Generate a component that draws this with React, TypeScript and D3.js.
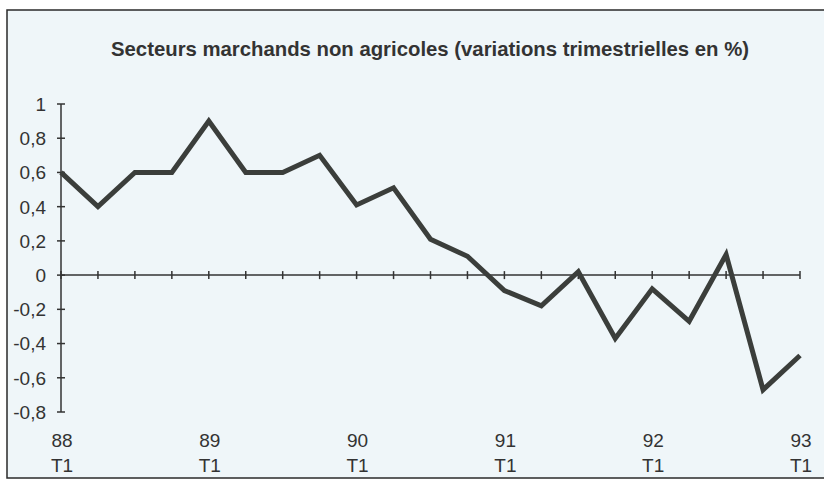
import React from 'react'
import * as d3 from 'd3'

// Quarters from 88 T1 to 93 T1
const quarters = [
  '88T1', '88T2', '88T3', '88T4',
  '89T1', '89T2', '89T3', '89T4',
  '90T1', '90T2', '90T3', '90T4',
  '91T1', '91T2', '91T3', '91T4',
  '92T1', '92T2', '92T3', '92T4',
  '93T1'
]
const values = [
  0.6, 0.4, 0.6, 0.6,
  0.9, 0.6, 0.6, 0.7,
  0.41, 0.51, 0.21, 0.11,
  -0.09, -0.18, 0.02, -0.37,
  -0.08, -0.27, 0.12, -0.67,
  -0.47
]
const yTicks = [1, 0.8, 0.6, 0.4, 0.2, 0, -0.2, -0.4, -0.6, -0.8]
const yearLabels = ['88', '89', '90', '91', '92', '93']

const W = 824
const H = 483

const App: React.FC = () => {
  const x = d3.scaleLinear().domain([0, quarters.length - 1]).range([61, 800])
  const y = d3.scaleLinear().domain([-0.8, 1]).range([412, 104])

  const line = d3.line<number>()
    .x((_, i) => x(i))
    .y(d => y(d))

  const fmt = (v: number) => (v === 0 ? '0' : String(+v.toFixed(1)).replace('.', ','))
  const font = '"Liberation Sans", Arial, sans-serif'

  return (
    <div style={{ position: 'fixed', left: 0, top: 0 }}>
      <svg width={W} height={H} style={{ display: 'block', background: '#ffffff' }}>
        <rect x={7} y={10} width={W + 10} height={468} fill="#eff6f9" stroke="#2a2a2a" strokeWidth={1.5} />

        <text
          x={430}
          y={56}
          textAnchor="middle"
          fontFamily={font}
          fontSize={21}
          fontWeight="bold"
          fill="#333"
          textLength={638}
          lengthAdjust="spacingAndGlyphs"
        >
          Secteurs marchands non agricoles (variations trimestrielles en %)
        </text>

        {/* Y axis */}
        <line x1={x(0)} x2={x(0)} y1={y(1)} y2={y(-0.8)} stroke="#333" strokeWidth={1.5} />
        {yTicks.map(t => (
          <g key={t}>
            <line x1={x(0) - 4} x2={x(0) + 4} y1={y(t)} y2={y(t)} stroke="#333" strokeWidth={1.5} />
            <text
              x={46}
              y={y(t)}
              dy="0.36em"
              textAnchor="end"
              fontFamily={font}
              fontSize={19}
              fill="#333"
            >
              {fmt(t)}
            </text>
          </g>
        ))}

        {/* X axis at zero */}
        <line x1={x(0)} x2={x(quarters.length - 1)} y1={y(0)} y2={y(0)} stroke="#333" strokeWidth={1.5} />
        {quarters.map((q, i) => (
          <line key={q} x1={x(i)} x2={x(i)} y1={y(0) - 4} y2={y(0) + 4} stroke="#333" strokeWidth={1.5} />
        ))}
        {yearLabels.map((yr, k) => (
          <g key={yr} fontFamily={font} fontSize={19} fill="#333" textAnchor="middle">
            <text x={x(k * 4) + 1} y={447}>{yr}</text>
            <text x={x(k * 4) + 1} y={472}>T1</text>
          </g>
        ))}

        <path
          d={line(values) ?? ''}
          fill="none"
          stroke="#3b3e3b"
          strokeWidth={5}
          strokeLinejoin="miter"
        />
      </svg>
    </div>
  )
}

export default App
